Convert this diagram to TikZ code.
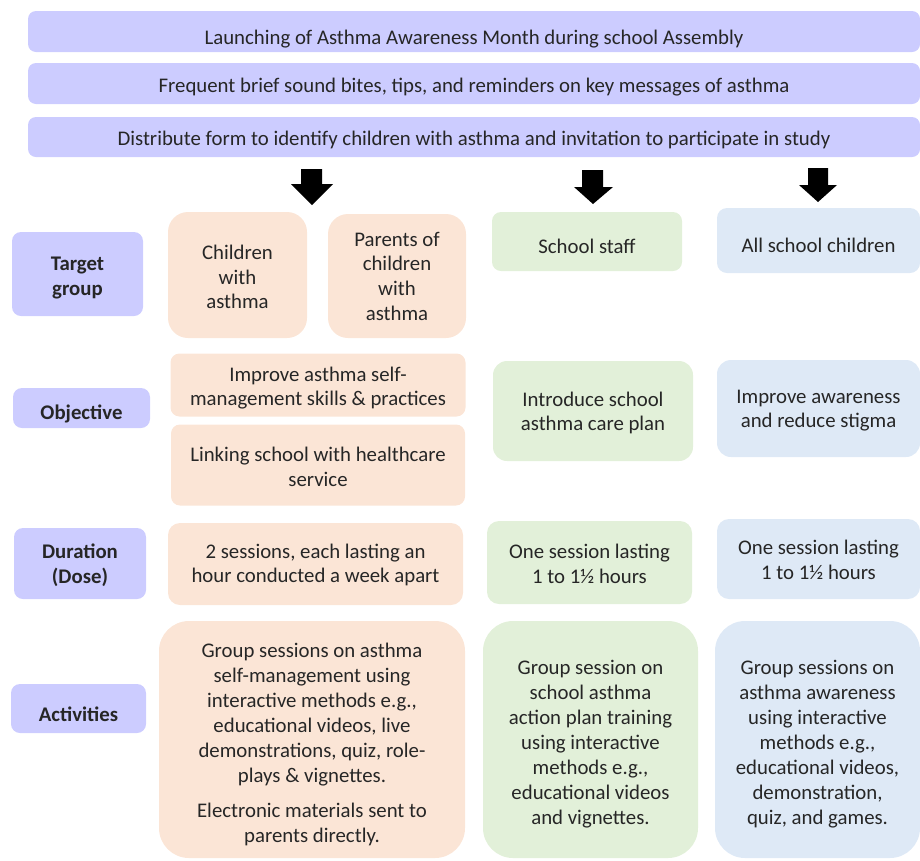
\documentclass[tikz,border=0pt]{standalone}
\usepackage{fontspec}
\setmainfont{Carlito}
\definecolor{lav}{RGB}{204,204,255}
\definecolor{peach}{RGB}{251,229,214}
\definecolor{mint}{RGB}{226,240,217}
\definecolor{sky}{RGB}{222,233,246}
\begin{document}
\begin{tikzpicture}[x=1pt,y=-1pt,
  txt/.style={inner sep=0pt, align=center, font=\fontsize{20.8}{24.7}\selectfont, text=black!85},
  btxt/.style={txt, font=\fontsize{20.8}{24.7}\selectfont\bfseries},
  atxt/.style={txt, font=\fontsize{20.8}{25}\selectfont},
  shp/.style={inner sep=0pt},
  bar/.style={shp, fill=lav, rounded corners=8pt},
  lab/.style={shp, fill=lav, rounded corners=9pt},
  orange/.style={shp, fill=peach},
  green/.style={shp, fill=mint},
  blue/.style={shp, fill=sky},
  blockarrow/.style={fill=black}]
\useasboundingbox (0,0) rectangle (920,860);
% top bars
\node[bar, minimum width=892, minimum height=41] (b1) at (474,31.5) {};
\node[txt] (t1) at ([yshift=-8pt]b1.center) {Launching of Asthma Awareness Month during school Assembly};
\node[bar, minimum width=892, minimum height=41] (b2) at (474,83.5) {};
\node[txt] (t2) at ([yshift=-3.5pt]b2.center) {Frequent brief sound bites, tips, and reminders on key messages of asthma};
\node[bar, minimum width=892, minimum height=40] (b3) at (474,137) {};
\node[txt] (t3) at ([yshift=-3pt]b3.center) {Distribute form to identify children with asthma and invitation to participate in study};
% block arrows
\fill[blockarrow] (301,169) -- (322,169) -- (322,184) -- (333,184) -- (312,205) -- (291,184) -- (301,184) -- cycle;
\fill[blockarrow] (582,170) -- (603,170) -- (603,187) -- (613,187) -- (593,204) -- (574,187) -- (582,187) -- cycle;
\fill[blockarrow] (808,168) -- (828,168) -- (828,185) -- (837,185) -- (818,202) -- (799,185) -- (808,185) -- cycle;
% row labels
\node[lab, minimum width=131, minimum height=84] (lt) at (77.5,274) {};
\node[btxt] (ltt) at ([yshift=-4pt]lt.center) {Target\\group};
\node[lab, minimum width=137, minimum height=40] (lo) at (81.5,408) {};
\node[btxt] (lot) at ([yshift=-6pt]lo.center) {Objective};
\node[lab, minimum width=132, minimum height=71] (ld) at (80,563.5) {};
\node[btxt] (ldt) at ([yshift=-2pt]ld.center) {Duration\\(Dose)};
\node[lab, minimum width=135, minimum height=49] (la) at (78.5,708.5) {};
\node[btxt] (lat) at ([yshift=-6pt]la.center) {Activities};
% target group
\node[orange, rounded corners=20pt, minimum width=139, minimum height=126] (tc) at (237.5,275) {};
\node[txt] (tct) at ([yshift=-2pt]tc.center) {Children\\with\\asthma};
\node[orange, rounded corners=20pt, minimum width=138, minimum height=124] (tp) at (397,276) {};
\node[txt] (tpt) at (tp.center) {Parents of\\children\\with\\asthma};
\node[green, rounded corners=9pt, minimum width=190, minimum height=59] (ts) at (587,241.5) {};
\node[txt] (tst) at ([yshift=-5pt]ts.center) {School staff};
\node[blue, rounded corners=10pt, minimum width=203, minimum height=65] (ta) at (818.5,240.5) {};
\node[txt] (tat) at ([yshift=-5pt]ta.center) {All school children};
% objective
\node[orange, rounded corners=9pt, minimum width=295, minimum height=63] (o1) at (318,385) {};
\node[txt] (o1t) at ([yshift=-3pt]o1.center) {Improve asthma self-\\management skills \& practices};
\node[orange, rounded corners=9pt, minimum width=294, minimum height=81] (o2) at (318,465) {};
\node[txt] (o2t) at ([yshift=-2pt]o2.center) {Linking school with healthcare\\service};
\node[green, rounded corners=14pt, minimum width=200, minimum height=100] (os) at (593,411) {};
\node[txt] (ost) at ([yshift=-2pt]os.center) {Introduce school\\asthma care plan};
\node[blue, rounded corners=14pt, minimum width=203, minimum height=97] (oa) at (818.5,408.5) {};
\node[txt] (oat) at ([yshift=-2pt]oa.center) {Improve awareness\\and reduce stigma};
% duration
\node[orange, rounded corners=12pt, minimum width=295, minimum height=82] (d1) at (315.5,564) {};
\node[txt] (d1t) at ([yshift=-1pt]d1.center) {2 sessions, each lasting an\\hour conducted a week apart};
\node[green, rounded corners=12pt, minimum width=205, minimum height=83] (ds) at (589.5,562.5) {};
\node[txt] (dst) at ([yshift=-1pt]ds.center) {One session lasting\\1 to 1½ hours};
\node[blue, rounded corners=12pt, minimum width=203, minimum height=80] (da) at (818.5,559) {};
\node[txt] (dat) at ([yshift=-1pt]da.center) {One session lasting\\1 to 1½ hours};
% activities
\node[orange, rounded corners=30pt, minimum width=306, minimum height=237] (a1) at (312,739.5) {};
\node[atxt] (a1t) at ([yshift=-4.5pt]a1.center) {Group sessions on asthma\\self-management using\\interactive methods e.g.,\\educational videos, live\\demonstrations, quiz, role-\\plays \& vignettes.\\[10pt]Electronic materials sent to\\parents directly.};
\node[green, rounded corners=30pt, minimum width=215, minimum height=237] (as) at (590.5,739.5) {};
\node[atxt] (ast) at ([yshift=-5pt]as.center) {Group session on\\school asthma\\action plan training\\using interactive\\methods e.g.,\\educational videos\\and vignettes.};
\node[blue, rounded corners=30pt, minimum width=205, minimum height=237] (aa) at (817.5,739.5) {};
\node[atxt] (aat) at ([yshift=-5pt]aa.center) {Group sessions on\\asthma awareness\\using interactive\\methods e.g.,\\educational videos,\\demonstration,\\quiz, and games.};
\end{tikzpicture}
\end{document}
